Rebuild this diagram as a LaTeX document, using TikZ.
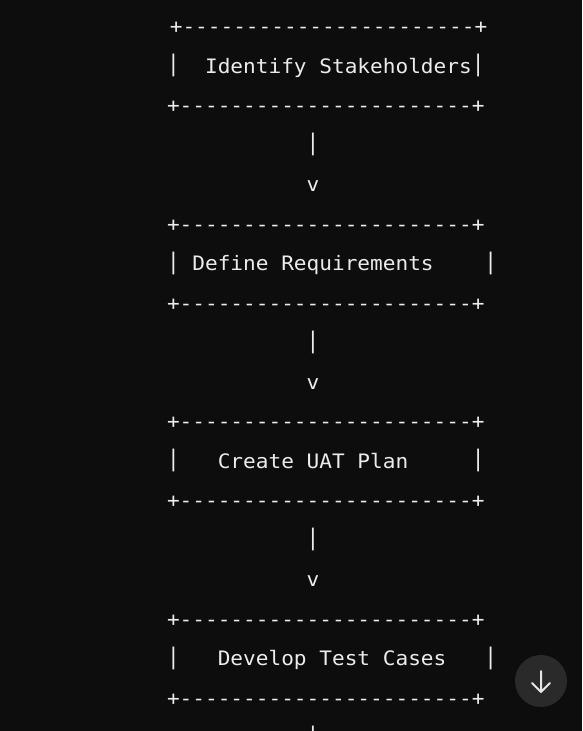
\documentclass[tikz,border=0pt]{standalone}
\usepackage{fontspec}
% monospace face for the text art (no TeX ligatures, so "--" stays two hyphens)
\setmonofont[FakeStretch=1.06]{DejaVu Sans Mono}
\definecolor{pagebg}{HTML}{0D0D0D}
\definecolor{codefg}{HTML}{ECECEC}
\definecolor{btnbg}{HTML}{2A2A2A}
\definecolor{btnfg}{HTML}{E6E6E6}
% a taller, slightly raised vertical bar
\newcommand\vbar{\raisebox{1.7pt}{\scalebox{1}[1.146]{|}}}
\begin{document}
\begin{tikzpicture}[x=1pt,y=-1pt,
  codeline/.style={anchor=base west,inner sep=0pt,outer sep=0pt,text=codefg,
    font=\ttfamily\fontsize{19.9}{20}\selectfont},
  codechar/.style={codeline,anchor=base}]
\fill[pagebg] (0,0) rectangle (582,731);
\useasboundingbox (0,0) rectangle (582,731);
\clip (0,0) rectangle (582,731);

% box 1
\node[codeline] (s1top) at (169.8,33.8)  {+-----------------------+};
\node[codeline] (s1)    at (167.0,73.3)  {\vbar~~Identify Stakeholders\vbar};
\node[codeline] (s1bot) at (167.0,112.8) {+-----------------------+};
\node[codechar] (c1bar) at (313,152.3)   {\vbar};
\node[codechar] (c1tip) at (313,191.8)   {v};

% box 2
\node[codeline] (s2top) at (167.0,231.3) {+-----------------------+};
\node[codeline] (s2)    at (167.0,270.8) {\vbar~Define Requirements~~~~\vbar};
\node[codeline] (s2bot) at (167.0,310.3) {+-----------------------+};
\node[codechar] (c2bar) at (313,349.8)   {\vbar};
\node[codechar] (c2tip) at (313,389.3)   {v};

% box 3
\node[codeline] (s3top) at (167.0,428.8) {+-----------------------+};
\node[codeline] (s3)    at (167.0,468.3) {\vbar~~~Create UAT Plan~~~~~\vbar};
\node[codeline] (s3bot) at (167.0,507.8) {+-----------------------+};
\node[codechar] (c3bar) at (313,547.3)   {\vbar};
\node[codechar] (c3tip) at (313,586.8)   {v};

% box 4
\node[codeline] (s4top) at (167.0,626.3) {+-----------------------+};
\node[codeline] (s4)    at (167.0,665.8) {\vbar~~~Develop Test Cases~~~\vbar};
\node[codeline] (s4bot) at (167.0,705.3) {+-----------------------+};
\node[codechar] (c4bar) at (313,744.8)   {\vbar};

% scroll-down button
\node[circle,fill=btnbg,minimum size=52pt,inner sep=0pt] (scrollbtn) at (541,681) {};
\draw[btnfg,line width=2pt,line cap=round,line join=round]
  (scrollbtn.center) ++(0,-10) -- ++(0,21)
  (scrollbtn.center) ++(-9,2) -- ++(9,9) -- ++(9,-9);
\end{tikzpicture}
\end{document}
